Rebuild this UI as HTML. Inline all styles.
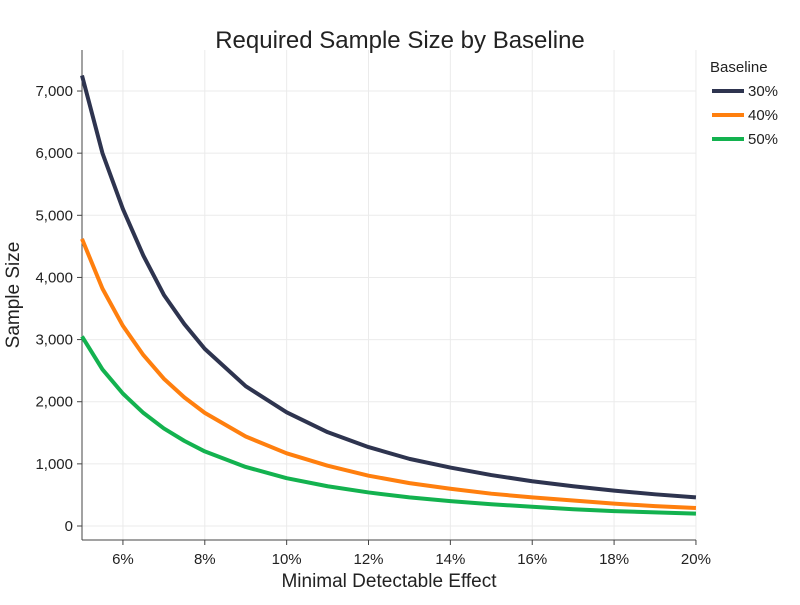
<!DOCTYPE html>
<html><head><meta charset="utf-8"><style>
body{margin:0;background:#fff}
svg text{font-family:"Liberation Sans",Arial,sans-serif;fill:#222}
</style></head><body>
<svg id="chart" width="800" height="600">
<text x="400" y="48" text-anchor="middle" font-size="24">Required Sample Size by Baseline</text>
<g id="grid"></g><g id="axes"></g><g id="series"></g>
<text x="389" y="587" text-anchor="middle" font-size="19">Minimal Detectable Effect</text>
<text transform="translate(19,295) rotate(-90)" text-anchor="middle" font-size="19">Sample Size</text>
<g id="legend"></g>
</svg>
<script>
const mde=[5,5.5,6,6.5,7,7.5,8,9,10,11,12,13,14,15,16,17,18,19,20];
const base30=[7250,6000,5100,4350,3720,3250,2850,2250,1830,1510,1270,1080,940,820,720,640,570,510,460];
const base40=[4620,3820,3220,2750,2370,2070,1820,1440,1170,970,810,690,600,520,460,410,360,320,290];
const base50=[3050,2520,2130,1820,1570,1370,1200,950,770,640,540,460,400,350,310,270,240,220,200];
const seriesNames=["30%","40%","50%"];
const xTicks=[6,8,10,12,14,16,18,20];
const yTicks=[0,1000,2000,3000,4000,5000,6000,7000];
const colors=["#2e344f","#ff7f0e","#13b24f"];
const NS="http://www.w3.org/2000/svg";
const X=v=>82+(v-5)*40.93, Y=v=>526-v*0.06214;
function mk(tag,attrs,parent,txt){const e=document.createElementNS(NS,tag);for(const k in attrs)e.setAttribute(k,attrs[k]);if(txt!==undefined)e.textContent=txt;parent.appendChild(e);return e;}
const grid=document.getElementById('grid'),axes=document.getElementById('axes'),ser=document.getElementById('series'),leg=document.getElementById('legend');
xTicks.forEach(t=>{
 const g=mk('line',{x1:X(t),x2:X(t),y1:50,y2:540,stroke:'#ebebeb'},grid);
 
 
 mk('line',{x1:X(t),x2:X(t),y1:540,y2:545,stroke:'#444'},axes);
 const l=mk('text',{x:X(t),y:564,'text-anchor':'middle','font-size':15},axes,t+'%');
 
 
});
yTicks.forEach(t=>{
 const g=mk('line',{x1:82,x2:696,y1:Y(t),y2:Y(t),stroke:'#ebebeb'},grid);
 
 
 mk('line',{x1:77,x2:82,y1:Y(t),y2:Y(t),stroke:'#444'},axes);
 const l=mk('text',{x:73,y:Y(t)+5,'text-anchor':'end','font-size':15},axes,t.toLocaleString('en-US'));
 
 
});
mk('line',{x1:82,x2:82,y1:50,y2:540,stroke:'#444'},axes);
mk('line',{x1:82,x2:696,y1:540,y2:540,stroke:'#444'},axes);
[base30,base40,base50].forEach((s,i)=>{
 const p=mk('polyline',{points:s.map((v,j)=>X(mde[j])+','+Y(v)).join(' '),fill:'none',stroke:colors[i],'stroke-width':4,'stroke-linejoin':'round'},ser);
 
 
 const ly=91+i*24;
 const ll=mk('line',{x1:712,x2:744,y1:ly,y2:ly,stroke:colors[i],'stroke-width':4},leg);
 
 
 const lt=mk('text',{x:748,y:ly+5,'font-size':15},leg,seriesNames[i]);
 
 
});
const lh=mk('text',{x:710,y:72,'font-size':15},leg,'Baseline');


</script>
</body></html>
